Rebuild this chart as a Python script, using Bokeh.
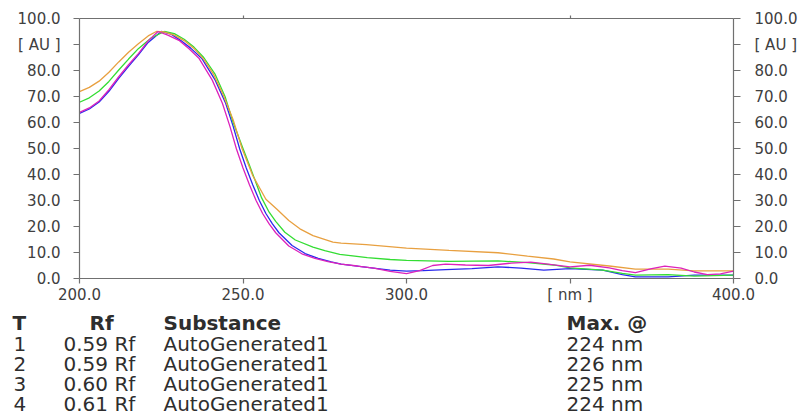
from bokeh.plotting import figure
from bokeh.models import LinearAxis, FixedTicker, Range1d, ColumnDataSource
from bokeh.layouts import column
from bokeh.core.properties import value
from bokeh.embed import file_html
from bokeh.resources import INLINE

# ---- spectra (wavelength nm, absorbance AU) ----
nm_1 = [200, 203, 206, 209, 212, 215, 218, 221, 224, 227, 230.4, 233.5, 236.6, 240.6, 243.7, 246, 248, 250, 252,
        254, 256, 258, 260, 264, 268, 272, 276, 280, 285, 290, 295, 300, 304, 308, 312, 318, 325, 332, 338, 342,
        350, 356, 362, 366, 370, 375, 379, 384, 388, 392, 396, 400]
au_1 = [63.9, 65.6, 68.3, 72.6, 77.6, 82.2, 86.5, 91.4, 95.0, 93.6, 91.6, 88.4, 84.6, 76.3, 67.4, 58.5, 49.8, 42.5,
        36.0, 30.0, 25.0, 21.0, 17.6, 12.5, 9.5, 7.7, 6.5, 5.5, 4.8, 4.0, 2.7, 1.9, 3.0, 5.0, 5.5, 5.2, 5.0, 5.9,
        6.3, 5.7, 4.5, 5.1, 4.1, 3.0, 2.3, 3.8, 4.8, 4.0, 2.5, 1.5, 1.8, 2.8]

nm_2 = [200, 203, 206, 209, 212, 215, 218, 222, 226, 229, 232, 235, 238, 241.5, 244.5, 247, 250, 252, 255.7, 258,
        260, 262.8, 266, 271.4, 275, 279.6, 288, 295, 300, 313, 328, 337, 345, 350, 360, 366, 370, 380, 388, 400]
au_2 = [67.8, 69.5, 72.1, 75.8, 80.2, 84.4, 88.4, 92.6, 95.0, 94.2, 92.0, 89.0, 85.0, 78.5, 70.0, 60.0, 50.0, 43.5,
        31.0, 25.5, 22.0, 17.8, 14.8, 12.1, 10.7, 9.3, 8.0, 7.3, 7.0, 6.6, 6.8, 6.1, 5.2, 4.1, 3.2, 2.0, 1.3, 1.5,
        0.9, 1.3]

nm_3 = [200, 203, 206, 209, 212, 215, 218, 221, 225, 228, 231, 234, 237.5, 241.5, 244.7, 247, 249, 251, 253, 255,
        257, 259, 261, 265, 269, 273, 277, 280, 288, 295, 300, 305, 312, 320, 328, 335, 342, 350, 360, 366, 370,
        380, 388, 400]
au_3 = [63.5, 65.2, 67.9, 72.0, 77.0, 81.6, 86.0, 90.8, 95.0, 94.0, 91.5, 88.6, 84.5, 76.3, 67.4, 58.5, 49.8, 42.5,
        36.0, 30.0, 25.0, 21.0, 17.6, 12.7, 9.6, 7.7, 6.4, 5.5, 4.3, 3.2, 2.8, 3.0, 3.4, 3.8, 4.5, 4.0, 3.2, 3.8,
        3.2, 1.5, 0.6, 0.6, 1.3, 1.3]

nm_4 = [200, 203, 206, 209, 212, 215, 218, 221, 223.5, 226, 229, 232, 235, 238, 241, 244, 247, 249.7, 253, 257,
        260.3, 264, 267.4, 271.4, 277.5, 280, 287.7, 300, 313, 328, 331, 337, 345, 350, 362, 370, 380, 388, 400]
au_4 = [71.9, 73.5, 75.9, 79.3, 83.3, 87.0, 90.3, 93.3, 95.0, 94.8, 93.6, 91.5, 88.5, 84.3, 78.5, 70.5, 61.0, 50.0,
        39.5, 30.5, 26.7, 22.3, 19.1, 16.5, 14.0, 13.6, 13.0, 11.7, 10.8, 9.9, 9.5, 8.6, 7.5, 6.4, 4.8, 3.6, 3.6,
        2.9, 2.9]

# ---- axis ticks ----
x_ticks = [200, 250, 300, 350, 400]
x_tick_labels = ["200.0", "250.0", "300.0", "[ nm ]", "400.0"]
y_ticks = [0, 10, 20, 30, 40, 50, 60, 70, 80, 90, 100]
y_tick_labels = ["0.0", "10.0", "20.0", "30.0", "40.0", "50.0", "60.0", "70.0", "80.0", "[ AU ]", "100.0"]

# ---- table ----
tracks = ["1", "2", "3", "4"]
rf_values = ["0.59 Rf", "0.59 Rf", "0.60 Rf", "0.61 Rf"]
substances = ["AutoGenerated1", "AutoGenerated1", "AutoGenerated1", "AutoGenerated1"]
max_at = ["224 nm", "226 nm", "225 nm", "224 nm"]
headers = ["T", "Rf", "Substance", "Max. @"]

FONT = "DejaVu Sans"
AXIS_COL = "#707070"
LABEL_COL = "#404040"
TEXT_COL = "#2e2e2e"

p = figure(width=805, height=306, x_range=Range1d(200, 400), y_range=Range1d(0, 100),
           output_backend="svg", toolbar_location=None, x_axis_location=None, y_axis_location=None,
           min_border_left=79, min_border_right=72, min_border_top=18, min_border_bottom=26)
p.outline_line_color = None
p.grid.visible = False
p.background_fill_color = "white"
p.border_fill_color = "white"

colors = {"1": "#dd22bb", "2": "#33dd33", "3": "#2a2aee", "4": "#e8a040"}
p.line(nm_3, au_3, line_color=colors["3"], line_width=1.3)
p.line(nm_2, au_2, line_color=colors["2"], line_width=1.3)
p.line(nm_4, au_4, line_color=colors["4"], line_width=1.3)
p.line(nm_1, au_1, line_color=colors["1"], line_width=1.3)


def style(ax, tick_out, standoff, size):
    ax.axis_line_color = AXIS_COL
    ax.axis_line_width = 1.2
    ax.major_tick_line_color = AXIS_COL
    ax.major_tick_line_width = 1.2
    ax.major_tick_out = tick_out
    ax.major_tick_in = 0
    ax.minor_tick_out = 0
    ax.minor_tick_in = 0
    ax.major_label_standoff = standoff
    ax.major_label_text_font = FONT
    ax.major_label_text_font_size = size
    ax.major_label_text_color = LABEL_COL


xb = LinearAxis(ticker=FixedTicker(ticks=x_ticks),
                major_label_overrides={t: l for t, l in zip(x_ticks, x_tick_labels)})
style(xb, 5, 2, "15px")
p.add_layout(xb, "below")

xt = LinearAxis(ticker=FixedTicker(ticks=[250, 350]))
style(xt, 3, 0, "0px")
xt.major_label_text_color = None
p.add_layout(xt, "above")

yl = LinearAxis(ticker=FixedTicker(ticks=y_ticks),
                major_label_overrides={t: l for t, l in zip(y_ticks, y_tick_labels)})
style(yl, 6, 13, "15px")
p.add_layout(yl, "left")

yr = LinearAxis(ticker=FixedTicker(ticks=y_ticks),
                major_label_overrides={t: l for t, l in zip(y_ticks, y_tick_labels)})
style(yr, 7, 14, "15px")
p.add_layout(yr, "right")

# ---- table figure (pixel-like coordinates: x left->right, y top->bottom) ----
t = figure(width=805, height=110, x_range=Range1d(0, 805), y_range=Range1d(416, 306),
           output_backend="svg", toolbar_location=None, x_axis_location=None, y_axis_location=None,
           min_border=0, min_border_left=0, min_border_right=0, min_border_top=0, min_border_bottom=0)
t.outline_line_color = None
t.grid.visible = False
t.background_fill_color = "white"
t.border_fill_color = "white"

for fig in (p, t):
    try:
        fig.frame_align = False
    except Exception:
        pass

header_x = [12, 89, 163, 566]
t.text(x=header_x, y=[322.5] * 4, text=headers, text_font=value(FONT), text_font_style="bold",
       text_font_size="20px", text_color=TEXT_COL, text_baseline="middle", text_align="left")

row_y = [343.5, 363.5, 383.5, 403.5]
src = ColumnDataSource(dict(y=row_y, tr=tracks, rf=rf_values, sub=substances, mx=max_at))
common = dict(y="y", source=src, text_font=value(FONT), text_font_size="20px", text_color=TEXT_COL,
              text_baseline="middle", text_align="left")
t.text(x=13, text="tr", **common)
t.text(x=63, text="rf", **common)
t.text(x=163, text="sub", **common)
t.text(x=566, text="mx", **common)

layout = column(p, t, spacing=0)
open("out.html", "w").write(file_html(layout, INLINE))
